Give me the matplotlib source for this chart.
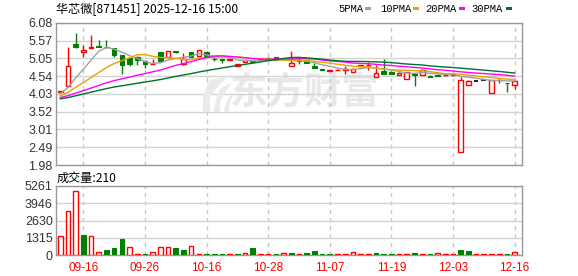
import numpy as np
import matplotlib
matplotlib.use('Agg')
import matplotlib.pyplot as plt
from matplotlib.patches import Rectangle, PathPatch
from matplotlib.path import Path
from matplotlib.transforms import IdentityTransform

# ---------------- data ----------------
# closes before the first visible candle (estimated so that the MAs start where the picture shows)
prior_closes = [3.78, 3.80, 3.76, 3.79, 3.83, 3.85, 3.81, 3.80, 3.84, 3.84,
                3.86, 3.85, 3.89, 3.90, 3.87, 3.86, 3.88, 3.91, 3.89, 3.89,
                3.90, 3.93, 3.91, 3.94, 3.92,
                3.97, 4.00, 4.05, 4.07]

opens = [4.08, 4.25, 5.47, 5.24, 5.36, 5.42, 5.39, 5.37, 5.17, 5.07,
         5.11, 4.99, 4.89, 5.24, 5.10, 5.26, 4.90, 5.24, 5.12, 5.25,
         5.05, 5.04, 5.01, 4.85, 4.95, 4.98, 5.02, 5.07, 5.09, 5.03,
         4.84, 5.02, 5.00, 4.85, 4.74, 4.70, 4.72, 4.72, 4.66, 4.84,
         4.86, 4.52, 4.68, 4.66, 4.59, 4.46, 4.62, 4.58, 4.56, 4.59,
         4.57, 4.59, 2.35, 4.30, 4.41, 4.42, 4.05, 4.42, 4.36, 4.30]
highs = [4.12, 5.38, 5.80, 5.45, 5.72, 5.58, 5.58, 5.37, 5.17, 5.11,
         5.13, 5.02, 5.04, 5.25, 5.28, 5.28, 5.21, 5.25, 5.30, 5.26,
         5.09, 5.04, 5.03, 4.90, 5.02, 4.99, 5.04, 5.10, 5.09, 5.06,
         5.26, 5.06, 5.00, 4.92, 4.74, 4.71, 4.74, 4.83, 4.77, 4.88,
         4.95, 4.88, 5.04, 4.70, 4.66, 4.66, 4.62, 4.75, 4.57, 4.60,
         4.59, 4.61, 4.51, 4.44, 4.41, 4.42, 4.43, 4.46, 4.36, 4.41]
lows = [4.07, 4.23, 5.36, 5.11, 5.36, 5.39, 5.36, 5.11, 4.60, 4.83,
        4.87, 4.78, 4.89, 4.96, 5.10, 5.22, 4.88, 5.10, 5.12, 5.10,
        4.98, 4.92, 5.01, 4.85, 4.95, 4.96, 5.01, 5.05, 5.00, 5.03,
        4.83, 4.90, 4.92, 4.78, 4.72, 4.70, 4.72, 4.61, 4.66, 4.84,
        4.73, 4.52, 4.61, 4.60, 4.58, 4.46, 4.25, 4.58, 4.52, 4.56,
        4.56, 4.58, 2.35, 4.30, 4.41, 4.42, 4.05, 4.36, 4.10, 4.17]
closes = [4.11, 4.85, 5.40, 5.30, 5.38, 5.40, 5.38, 5.16, 4.87, 4.89,
          5.00, 4.89, 4.91, 4.97, 5.28, 5.24, 5.04, 5.11, 5.30, 5.10,
          5.03, 5.02, 5.03, 4.90, 5.02, 4.96, 5.04, 5.05, 5.00, 5.05,
          4.92, 4.99, 4.93, 4.79, 4.73, 4.71, 4.73, 4.74, 4.76, 4.87,
          4.88, 4.635, 4.62, 4.61, 4.65, 4.66, 4.59, 4.73, 4.52, 4.56,
          4.58, 4.60, 4.44, 4.40, 4.41, 4.42, 4.43, 4.44, 4.34, 4.41]
volumes = [1450, 3350, 4880, 1520, 1450, 210, 380, 560, 1220, 590,
           70, 70, 210, 590, 590, 560, 380, 660, 70, 70,
           70, 70, 70, 70, 150, 530, 70, 70, 70, 150,
           150, 70, 150, 300, 70, 70, 70, 70, 230, 70,
           70, 150, 70, 70, 70, 70, 150, 70, 70, 150,
           70, 70, 380, 300, 70, 70, 70, 70, 70, 210]

date_labels = ['09-16', '09-26', '10-16', '10-28', '11-07', '11-19', '12-03', '12-16']
date_idx = [3, 11, 19, 27, 35, 43, 51, 59]

price_ticks = [1.98, 2.4925, 3.005, 3.5175, 4.03, 4.5425, 5.055, 5.5675, 6.08]
price_labels = ['1.98', '2.49', '3.01', '3.52', '4.03', '4.54', '5.05', '5.57', '6.08']
vol_ticks = [0, 1315, 2630, 3946, 5261]
vol_labels = ['0', '1315', '2630', '3946', '5261']

ma_periods = [5, 10, 20, 30]
ma_names = ['5PMA', '10PMA', '20PMA', '30PMA']
ma_colors = ['#A0A0A0', '#F0A000', '#FF00FF', '#006F2F']

title = '华芯微[871451] 2025-12-16 15:00'
vol_title = '成交量:210'
watermark = '东方财富'

# ---------------- style ----------------
RED = '#FF0000'
GREEN = '#008000'
GRID = '#D3D3D3'
SPINE = '#999999'
TXT = '#333333'
FONT = ['Liberation Sans', 'DejaVu Sans']
CJK = ['Noto Sans CJK SC', 'DejaVu Sans']

W, H = 578, 276
fig = plt.figure(figsize=(W / 100, H / 100), dpi=100)
fig.patch.set_facecolor('white')


def fx(x):
    return x / W


def fy(y):
    return 1 - y / H


L, R = 55.5, 522
ax = fig.add_axes([fx(L), fy(165), (R - L) / W, (165 - 23) / H])
axv = fig.add_axes([fx(L), fy(255), (R - L) / W, (255 - 186) / H])

n = len(closes)
xs = np.arange(n)
xlim = (-0.62, 59.96)

all_closes = np.array(prior_closes + closes)
npre = len(prior_closes)

# candles
bw = 0.6
for i in xs:
    o, h, l, c = opens[i], highs[i], lows[i], closes[i]
    if c > o:
        col = RED
    elif c < o:
        col = GREEN
    else:
        col = 'black'
    ax.vlines(i, l, h, color=col, lw=1.0, zorder=2)
    if c > o:
        ax.bar(i, c - o, bottom=o, width=bw, facecolor='white', edgecolor=RED, lw=1.0, zorder=3)
    elif c < o:
        ax.bar(i, o - c, bottom=c, width=bw, facecolor=GREEN, edgecolor=GREEN, lw=0.8, zorder=3)
    else:
        ax.hlines(c, i - bw / 2, i + bw / 2, color='black', lw=1.2, zorder=3)

# moving averages
for p, col in zip(ma_periods, ma_colors):
    ma = np.array([all_closes[npre + i - p + 1: npre + i + 1].mean() for i in xs])
    ax.plot(xs, ma, color=col, lw=1.0, zorder=4)

ax.set_xlim(*xlim)
ax.set_ylim(1.98, 6.08)
ax.set_yticks(price_ticks)
ax.set_yticklabels(price_labels, family=FONT, fontsize=9, color=TXT)
ax.set_xticks(date_idx)
ax.tick_params(length=0, pad=2, labelbottom=False)
ax.yaxis.grid(True, color=GRID, lw=1.0)
for xi in date_idx:
    ax.axvline(xi, color='#C8C8C8', lw=1.0, ls=(0, (3, 3)), zorder=0.5)

ax.text(0.535, 0.505, watermark, transform=ax.transAxes, family=CJK, fontsize=27,
        fontweight='bold', color='#E8E8E8', ha='center', va='center', zorder=0.2)

# watermark logo (feather-like strokes), drawn in pixel coordinates
def pix(pts):
    return [(x, H - y) for x, y in pts]


logo_paths = [
    [(203, 112), (201, 92), (210, 80), (229, 76), (216, 86), (210, 98), (210, 112), (203, 112)],
    [(214, 112), (215, 98), (221, 88), (232, 83), (224, 93), (220, 102), (220, 112), (214, 112)],
    [(224, 112), (225, 104), (229, 97), (234, 93), (230, 101), (229, 106), (229, 112), (224, 112)],
]
for pts in logo_paths:
    codes = [Path.MOVETO, Path.CURVE3, Path.CURVE3, Path.LINETO,
             Path.CURVE3, Path.CURVE3, Path.LINETO, Path.CLOSEPOLY]
    fig.patches.append(PathPatch(Path(pix(pts), codes), transform=IdentityTransform(),
                                 facecolor='#EAEAEA', edgecolor='none', zorder=0.1))

# volume
for i in xs:
    up = (closes[i] >= closes[i - 1]) if i > 0 else True
    if up:
        axv.bar(i, volumes[i], width=bw, facecolor='white', edgecolor=RED, lw=1.0, zorder=3)
    else:
        axv.bar(i, volumes[i], width=bw, facecolor=GREEN, edgecolor=GREEN, lw=0.8, zorder=3)

axv.set_xlim(*xlim)
axv.set_ylim(0, 5261)
axv.set_yticks(vol_ticks)
axv.set_yticklabels(vol_labels, family=FONT, fontsize=9, color=TXT)
axv.set_xticks(date_idx)
axv.set_xticklabels(date_labels, family=FONT, fontsize=8.5, color=RED)
axv.tick_params(length=0, pad=2)
axv.tick_params(axis='x', pad=5)
axv.yaxis.grid(True, color=GRID, lw=1.0)
for xi in date_idx:
    axv.axvline(xi, color='#C8C8C8', lw=1.0, ls=(0, (3, 3)), zorder=0.5)

for a in (ax, axv):
    for s in a.spines.values():
        s.set_color(SPINE)
        s.set_linewidth(1.0)
    a.set_facecolor('none')

# texts
fig.text(fx(56.5), fy(9), title, family=CJK, fontsize=8.7, color='black', va='center', ha='left')
fig.text(fx(57), fy(178), vol_title, family=CJK, fontsize=8.7, color='black', va='center', ha='left')

leg_x = [338.3, 380, 425.7, 471.7]
sw_x = [365, 412.7, 459.3, 505.7]
for name, col, tx, sx in zip(ma_names, ma_colors, leg_x, sw_x):
    fig.text(fx(tx), fy(9), name, family=['Liberation Mono', 'DejaVu Sans Mono'], fontsize=7.6,
             color='black', va='center', ha='left')
    fig.patches.append(Rectangle((fx(sx), fy(9.5)), 6 / W, 2.2 / H, transform=fig.transFigure,
                                 facecolor=col, edgecolor='none'))

fig.savefig('out.png', dpi=100, facecolor='white')
